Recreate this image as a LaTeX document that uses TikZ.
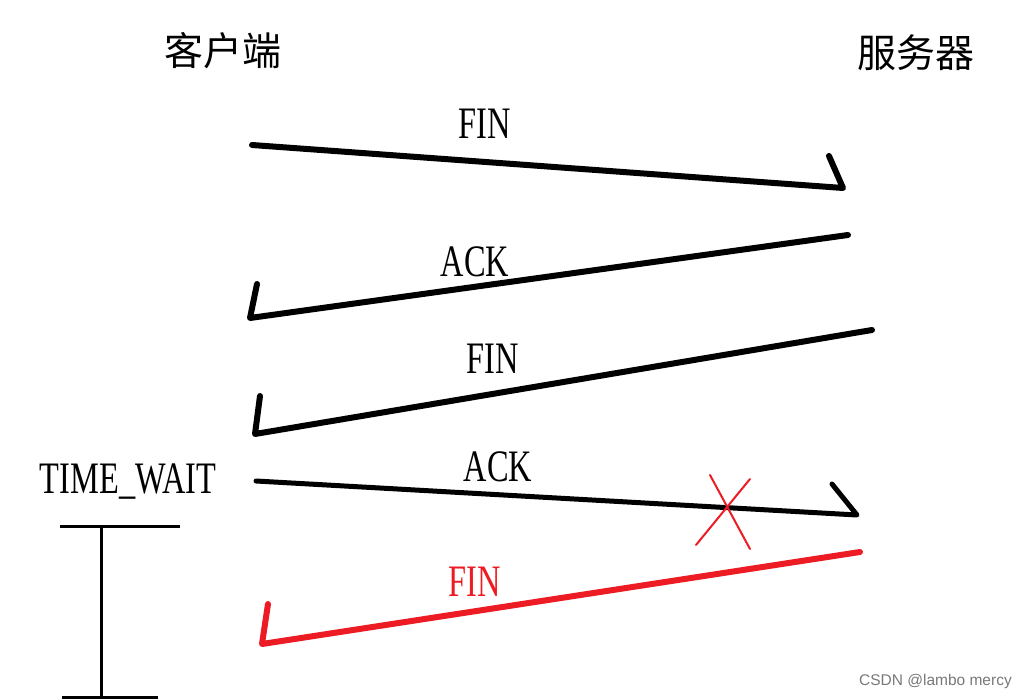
\documentclass[tikz,border=0pt]{standalone}
\usepackage{fontspec}
\newfontfamily\cjk{Noto Sans CJK SC}
\newfontfamily\lblfont[FakeStretch=0.72]{Liberation Serif}
\newfontfamily\wmfont{Liberation Sans}
\definecolor{paintred}{RGB}{237,28,36}
\definecolor{wmgrey}{RGB}{120,120,120}
\begin{document}
\begin{tikzpicture}[x=1pt,y=-1pt,
  msg/.style={line width=6pt,line cap=round,line join=round},
  lbl/.style={font=\lblfont\fontsize{45}{45}\selectfont,inner sep=0pt},
  party/.style={font=\cjk\fontsize{39}{39}\selectfont,inner sep=0pt},
  brk/.style={line width=3pt}]
\useasboundingbox (0,0) rectangle (1028,700);
% parties
\node[party] (client) at (223,51) {客户端};
\node[party] (server) at (916,53) {服务器};
% message 1: FIN client -> server
\coordinate (a1s) at (252,145);
\coordinate (a1e) at (843,188);
\coordinate (a1h) at (829,156);
\draw[msg] (a1s) -- (a1e) -- (a1h);
\node[lbl] (l1) at (485,124) {FIN};
% message 2: ACK server -> client
\coordinate (a2s) at (848,235);
\coordinate (a2e) at (250,318);
\coordinate (a2h) at (257,284);
\draw[msg] (a2s) -- (a2e) -- (a2h);
\node[lbl] (l2) at (475,262) {ACK};
% message 3: FIN server -> client
\coordinate (a3s) at (872,330);
\coordinate (a3e) at (255,434);
\coordinate (a3h) at (260,396);
\draw[msg] (a3s) -- (a3e) -- (a3h);
\node[lbl] (l3) at (493,359) {FIN};
% message 4: ACK client -> server (lost)
\coordinate (a4s) at (256,481);
\coordinate (a4e) at (857,515);
\coordinate (a4h) at (832,484);
\draw[msg,line width=5pt] (a4s) -- (a4e) -- (a4h);
\node[lbl] (l4) at (498,467) {ACK};
% red cross
\coordinate (x1a) at (710,475);
\coordinate (x1b) at (750,549);
\coordinate (x2a) at (696,545);
\coordinate (x2b) at (750,479);
\draw[paintred,line width=2pt,line cap=round] (x1a) -- (x1b);
\draw[paintred,line width=2pt,line cap=round] (x2a) -- (x2b);
% message 5: FIN retransmitted (red)
\coordinate (a5s) at (860,552);
\coordinate (a5e) at (262,644);
\coordinate (a5h) at (268,604);
\draw[msg,paintred] (a5s) -- (a5e) -- (a5h);
\node[lbl,text=paintred] (l5) at (475,582) {FIN};
% TIME_WAIT
\node[lbl] (tw) at (128,482) {TIME\_WAIT};
\coordinate (b1l) at (60,526);
\coordinate (b1r) at (180,526);
\coordinate (bt) at (101,526);
\coordinate (bb) at (101,697);
\coordinate (b2l) at (62,697);
\coordinate (b2r) at (158,697);
\draw[brk] (b1l) -- (b1r);
\draw[brk] (bt) -- (bb);
\draw[brk] (b2l) -- (b2r);
% watermark
\node[font=\wmfont\fontsize{15.5}{15.5}\selectfont,text=wmgrey,inner sep=0pt,anchor=east] (wm) at (1012,681) {CSDN @lambo mercy};
\end{tikzpicture}
\end{document}
